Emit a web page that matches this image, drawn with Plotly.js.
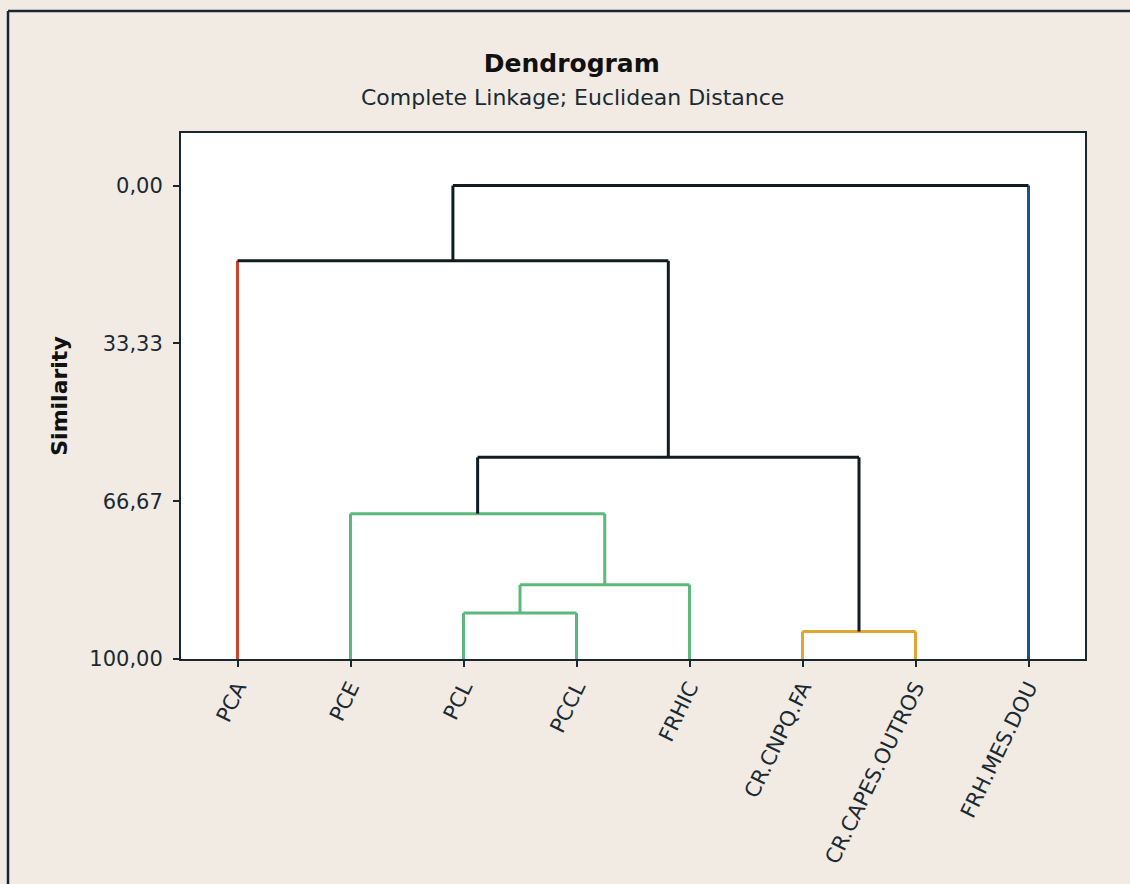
<!DOCTYPE html>
<html>
<head>
<meta charset="utf-8">
<script src="https://cdn.plot.ly/plotly-3.0.1.min.js"></script>
<style>
  html, body { margin: 0; padding: 0; background: #f2ebe4; }
  #chart { width: 1130px; height: 884px; }
</style>
</head>
<body>
<div id="chart"></div>
<script>
// Leaves (in dendrogram order)
const leaves = ['PCA', 'PCE', 'PCL', 'PCCL', 'FRHIC', 'CR.CNPQ.FA', 'CR.CAPES.OUTROS', 'FRH.MES.DOU'];
const leafColor = ['#c9452b', '#5cb87c', '#5cb87c', '#5cb87c', '#5cb87c', '#e2a432', '#e2a432', '#1f4f8e'];

// Merges: node ids 0..7 are leaves, merge k creates node 8+k
const mergeLeft  = [2, 8, 1, 5, 10, 0, 13];
const mergeRight = [3, 4, 9, 6, 11, 12, 7];
const mergeSimilarity = [90.3, 84.3, 69.3, 94.2, 57.4, 15.9, 0.0];
const mergeColor = ['#5cb87c', '#5cb87c', '#5cb87c', '#e2a432', '#111b22', '#111b22', '#111b22'];

// Y ticks
const yTickVals = [0, 33.33, 66.67, 100];
const yTickText = ['0,00', '33,33', '66,67', '100,00'];

const nLeaves = leaves.length;
const nodeX = leaves.map((_, i) => i);
const nodeY = leaves.map(() => 100);

const segs = {}; // color -> {x:[], y:[]}
function addSeg(color, xs, ys) {
  if (!segs[color]) segs[color] = { x: [], y: [] };
  segs[color].x.push(...xs, null);
  segs[color].y.push(...ys, null);
}
for (let k = 0; k < mergeLeft.length; k++) {
  const a = mergeLeft[k], b = mergeRight[k];
  const h = mergeSimilarity[k];
  const xa = nodeX[a], xb = nodeX[b];
  const ca = a < nLeaves ? leafColor[a] : mergeColor[k];
  const cb = b < nLeaves ? leafColor[b] : mergeColor[k];
  addSeg(ca, [xa, xa], [nodeY[a], h]);
  addSeg(cb, [xb, xb], [nodeY[b], h]);
  addSeg(mergeColor[k], [xa, xb], [h, h]);
  nodeX.push((xa + xb) / 2);
  nodeY.push(h);
}

const black = '#111b22';
const colors = Object.keys(segs).filter(c => c !== black).concat([black]);
const traces = colors.map(c => ({
  type: 'scatter', mode: 'lines',
  x: segs[c].x, y: segs[c].y,
  line: { color: c, width: 3 },
  hoverinfo: 'skip', showlegend: false
}));

const frame = '#1a2630';
const txt = '#1a2a33';
const layout = {
  width: 1130, height: 884,
  paper_bgcolor: '#f2ebe4',
  plot_bgcolor: '#ffffff',
  margin: { l: 181, r: 45, t: 133, b: 225 },
  showlegend: false,
  font: { family: 'DejaVu Sans, Verdana, sans-serif', color: txt },
  title: {
    text: '<b>Dendrogram</b>',
    font: { family: 'DejaVu Sans, sans-serif', size: 25, color: '#111' },
    xref: 'container', x: 0.506, xanchor: 'center',
    yref: 'container', y: 1 - 63 / 884, yanchor: 'middle'
  },
  annotations: [{
    text: 'Complete Linkage; Euclidean Distance',
    xref: 'paper', yref: 'paper',
    x: (572 - 181) / 904, y: (659 - 98) / 526,
    xanchor: 'center', yanchor: 'middle',
    showarrow: false,
    font: { family: 'DejaVu Sans, sans-serif', size: 22, color: txt }
  }],
  xaxis: {
    range: [-0.5, nLeaves - 0.5],
    tickmode: 'array',
    tickvals: leaves.map((_, i) => i),
    ticktext: leaves,
    tickangle: -64,
    ticks: 'outside', ticklen: 6, tickwidth: 2, tickcolor: frame,
    tickfont: { family: 'DejaVu Sans, sans-serif', size: 21, color: txt },
    showgrid: false, zeroline: false,
    showline: true, linecolor: frame, linewidth: 2, mirror: true,
    fixedrange: true
  },
  yaxis: {
    range: [100, -11.1],
    tickmode: 'array',
    tickvals: yTickVals,
    ticktext: yTickText,
    ticks: 'outside', ticklen: 6, tickwidth: 2, tickcolor: frame,
    ticklabelstandoff: 6,
    tickfont: { family: 'DejaVu Sans, sans-serif', size: 21, color: txt },
    title: {
      text: '<b>Similarity</b>',
      font: { family: 'DejaVu Sans, sans-serif', size: 22, color: '#111' },
      standoff: 16
    },
    showgrid: false, zeroline: false,
    showline: true, linecolor: frame, linewidth: 2, mirror: true,
    fixedrange: true
  },
  shapes: [
    { type: 'line', xref: 'paper', yref: 'paper',
      x0: (8 - 181) / 904, x1: (8 - 181) / 904, y0: (659 - 900) / 526, y1: (659 - 11) / 526,
      line: { color: frame, width: 2.5 } },
    { type: 'line', xref: 'paper', yref: 'paper',
      x0: (8 - 181) / 904, x1: (1140 - 181) / 904, y0: (659 - 11) / 526, y1: (659 - 11) / 526,
      line: { color: frame, width: 2.5 } }
  ]
};

Plotly.newPlot('chart', traces, layout, { displayModeBar: false, staticPlot: true });
</script>
</body>
</html>
